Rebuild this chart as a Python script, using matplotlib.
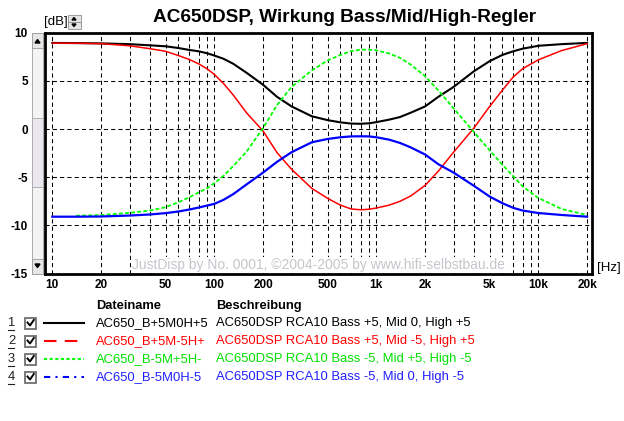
import matplotlib
matplotlib.use("Agg")
import matplotlib.pyplot as plt
import matplotlib.patches as patches
import numpy as np

plt.rcParams['font.family'] = ['Liberation Sans', 'DejaVu Sans']
plt.rcParams['axes.unicode_minus'] = False

# frequency points (Hz)
freqs = [10, 14, 20, 30, 40, 50, 60, 70, 80, 90, 100, 114, 131, 159, 200, 244,
         300, 400, 500, 600, 700, 800, 900, 1000, 1200, 1400, 1630, 2000, 2420,
         3000, 4000, 5000, 6000, 7000, 8000, 10000, 13900, 20000]

# B+5 M0 H+5
db_black = [8.95, 8.93, 8.9, 8.82, 8.7, 8.6, 8.42, 8.22, 8.08, 7.88, 7.64, 7.3,
            6.78, 5.82, 4.6, 3.35, 2.35, 1.33, 0.93, 0.7, 0.57, 0.55, 0.6, 0.72,
            0.98, 1.25, 1.7, 2.35, 3.36, 4.38, 6.0, 7.05, 7.7, 8.08, 8.35, 8.65,
            8.82, 8.95]
# B+5 M-5 H+5
db_red = [8.93, 8.92, 8.87, 8.65, 8.35, 8.08, 7.64, 7.23, 6.78, 6.27, 5.68, 4.73,
          3.53, 1.64, -0.2, -2.45, -4.18, -6.16, -7.19, -7.9, -8.3, -8.38, -8.33,
          -8.2, -7.9, -7.5, -6.95, -5.85, -4.35, -2.4, 0.1, 2.33, 4.04, 5.41,
          6.27, 7.19, 8.15, 8.87]
# B-5 M+5 H-5 (starts at ~14 Hz)
db_green = [np.nan, -9.0, -8.93, -8.7, -8.46, -8.12, -7.6, -7.09, -6.58, -6.16,
            -5.62, -4.86, -3.84, -2.29, 0.1, 2.5, 4.38, 6.1, 7.12, 7.7, 8.1, 8.25,
            8.25, 8.18, 7.85, 7.4, 6.7, 5.5, 4.0, 2.16, -0.3, -2.2, -3.7, -4.9,
            -5.95, -7.15, -8.29, -8.93]
# B-5 M0 H-5
db_blue = [-9.1, -9.1, -9.08, -8.98, -8.87, -8.73, -8.56, -8.36, -8.15, -7.95,
           -7.77, -7.35, -6.75, -5.72, -4.52, -3.4, -2.4, -1.37, -1.03, -0.85,
           -0.76, -0.75, -0.76, -0.85, -1.1, -1.44, -1.9, -2.64, -3.66, -4.52,
           -5.89, -7.0, -7.7, -8.18, -8.46, -8.72, -8.92, -9.1]

xticks = [10, 20, 50, 100, 200, 500, 1000, 2000, 5000, 10000, 20000]
xlabels = ['10', '20', '50', '100', '200', '500', '1k', '2k', '5k', '10k', '20k']
yticks = [-15, -10, -5, 0, 5, 10]

files = ['AC650_B+5M0H+5', 'AC650_B+5M-5H+', 'AC650_B-5M+5H-', 'AC650_B-5M0H-5']
descs = ['AC650DSP RCA10 Bass +5, Mid 0, High +5',
         'AC650DSP RCA10 Bass +5, Mid -5, High +5',
         'AC650DSP RCA10 Bass -5, Mid +5, High -5',
         'AC650DSP RCA10 Bass -5, Mid 0, High -5']
colors = ['#000000', '#ff0000', '#00ff00', '#0000ff']
text_colors = ['#000000', '#ff0000', '#00e000', '#2020ff']

W, H = 624, 421
fig = plt.figure(figsize=(W / 100, H / 100), dpi=100)

# overlay axes in pixel coordinates for widgets and legend
ov = fig.add_axes([0, 0, 1, 1])
ov.set_xlim(0, W)
ov.set_ylim(H, 0)
ov.axis('off')

L, R, T, B = 44.5, 591.7, 32.8, 273.5
ax = fig.add_axes([L / W, 1 - B / H, (R - L) / W, (B - T) / H])
ax.set_xscale('log')
ax.set_xlim(8.95, 21360)
ax.set_ylim(-15, 10)

series = [(db_black, '#000000', 1.5, '-'),
          (db_red, '#ff0000', 1.1, '-'),
          (db_green, '#00ff00', 1.3, (0, (2.2, 1.2))),
          (db_blue, '#0000ff', 1.6, '-')]
for vals, c, lw, ls in series:
    ax.plot(freqs, vals, color=c, lw=lw, linestyle=ls, zorder=3)

ax.set_xticks(xticks)
ax.set_xticklabels(xlabels)
minor = [m * 10 ** d for d in range(1, 5) for m in range(1, 10) if m * 10 ** d < 21000]
ax.set_xticks(minor, minor=True)
ax.xaxis.set_minor_formatter(matplotlib.ticker.NullFormatter())
ax.set_yticks(yticks)
ax.tick_params(axis='both', which='both', length=0)
ax.tick_params(axis='x', pad=4)
ax.tick_params(axis='y', pad=12)
for lab in ax.get_xticklabels() + ax.get_yticklabels():
    lab.set_fontweight('bold')
    lab.set_fontsize(8.5)
ax.set_axisbelow(True)
ax.grid(True, which='both', color='black', lw=0.75, linestyle=(0, (4, 3)))
for s in ax.spines.values():
    s.set_linewidth(2.0)

ax.text(0.5, 0.035, 'JustDisp by No. 0001, \u00a92004-2005 by www.hifi-selbstbau.de',
        transform=ax.transAxes, ha='center', va='center', fontsize=10,
        color='#c4c6cc', zorder=2,
        bbox=dict(facecolor='white', edgecolor='none', pad=0.8))

# title and unit labels
ov.text(344.5, 17, 'AC650DSP, Wirkung Bass/Mid/High-Regler', ha='center',
        va='center', fontsize=13.7, fontweight='bold')
ov.text(44, 21.5, '[dB]', ha='left', va='center', fontsize=9.5)
ov.text(597, 268, '[Hz]', ha='left', va='center', fontsize=9.5)

# small spin control next to [dB]
for y0 in (15, 22):
    ov.add_patch(patches.Rectangle((67.5, y0), 13, 7, facecolor='#e4e4e4',
                                   edgecolor='#909090', lw=0.6))
ov.add_patch(patches.Polygon([[72, 20], [76, 20], [74, 17.5]], closed=True, color='k'))
ov.add_patch(patches.Polygon([[72, 24], [76, 24], [74, 26.5]], closed=True, color='k'))

# scrollbar left of the plot
ov.add_patch(patches.Rectangle((31.7, T), 11.5, B - T, facecolor='#f4f4f4',
                               edgecolor='#a0a0a0', lw=0.6))
ov.add_patch(patches.Rectangle((32.2, 118), 10.5, 69, facecolor='#ebe7ee',
                               edgecolor='#a8a8a8', lw=0.6))
for y0 in (T, B - 15):
    ov.add_patch(patches.Rectangle((32.2, y0), 10.5, 15, facecolor='#e6e6e6',
                                   edgecolor='#9a9a9a', lw=0.6))
ov.add_patch(patches.Polygon([[35, 43], [40, 43], [37.5, 39.5]], closed=True, color='k'))
ov.add_patch(patches.Polygon([[35, B - 9.5], [40, B - 9.5], [37.5, B - 6]], closed=True, color='k'))

# legend table
ov.text(96, 306, 'Dateiname', ha='left', va='center', fontsize=9.3, fontweight='bold')
ov.text(216, 306, 'Beschreibung', ha='left', va='center', fontsize=9.3, fontweight='bold')
leg_styles = ['-', (0, (6, 4)), (0, (1.5, 1.2)), (0, (3, 2.5, 1, 2.5))]
row_y = [323, 341, 359, 377]
for i, y in enumerate(row_y):
    ov.text(8, y, str(i + 1), ha='left', va='center', fontsize=9.3, color='#202020')
    ov.plot([7.5, 14], [y + 6.5, y + 6.5], color='#202020', lw=0.8)
    ov.add_patch(patches.Rectangle((25, y - 5.5), 11, 11, facecolor='white',
                                   edgecolor='#707070', lw=1.3))
    ov.plot([27.5, 30, 33.8], [y - 0.5, y + 2.5, y - 3], color='k', lw=1.4)
    ov.plot([44, 84], [y, y], color=colors[i], lw=1.5, linestyle=leg_styles[i])
    ov.text(96, y, files[i], ha='left', va='center', fontsize=9.4, color=text_colors[i])
    ov.text(216, y, descs[i], ha='left', va='center', fontsize=9.4, color=text_colors[i])

fig.savefig('out.png', dpi=100, facecolor='white')
